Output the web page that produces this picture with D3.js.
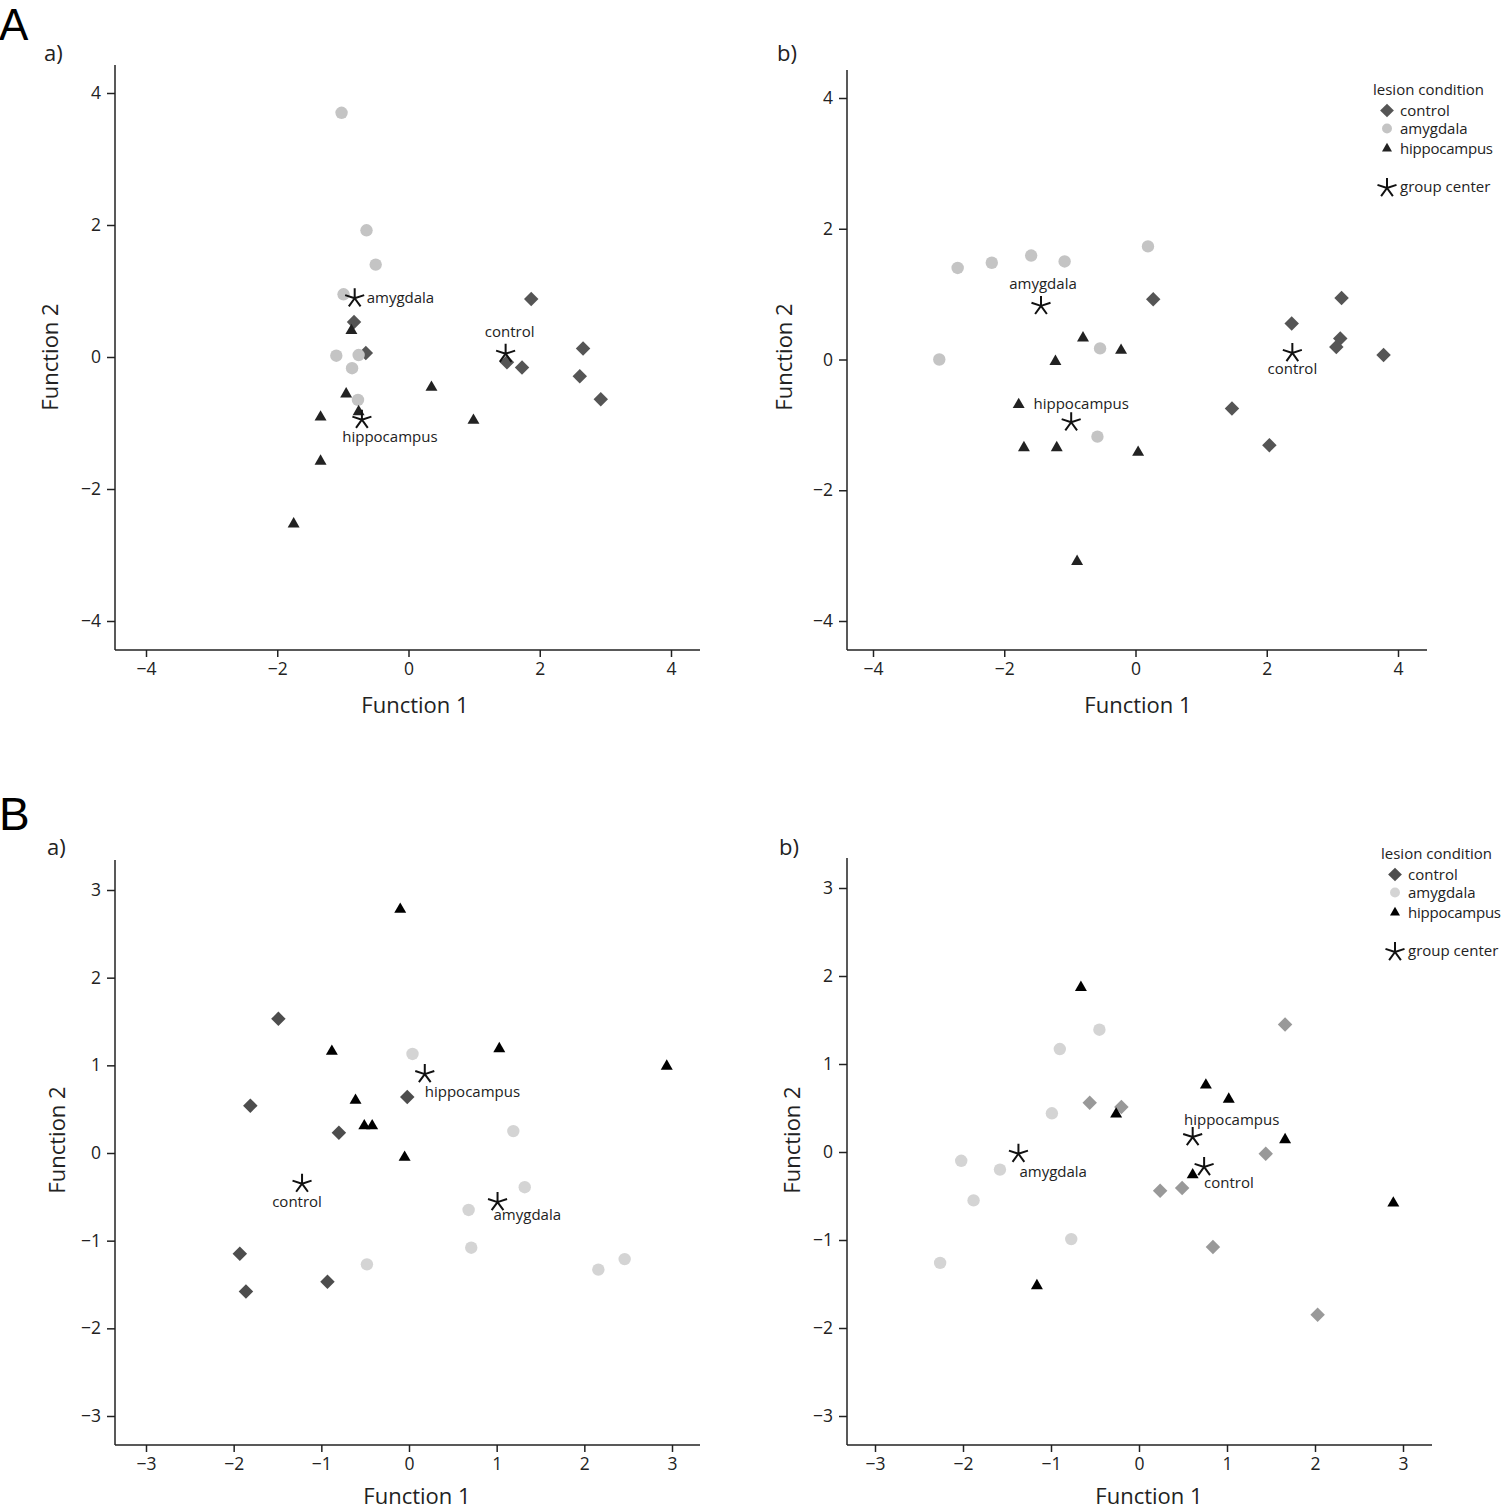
<!DOCTYPE html>
<html><head><meta charset="utf-8">
<script src="https://cdn.jsdelivr.net/npm/d3@7"></script>
<style>body{margin:0;background:#fff}svg{display:block}text{font-family:"Open Sans",sans-serif}</style>
</head><body>
<script>
// ---------- DATA ----------
const groups = ["control", "amygdala", "hippocampus"];
const ticksA = [-4, -2, 0, 2, 4];
const ticksB = [-3, -2, -1, 0, 1, 2, 3];

// Panel A a)
const aaControl = [[1.87,0.88],[-0.83,0.53],[-0.65,0.06],[1.50,-0.08],[1.73,-0.16],[2.66,0.13],[2.61,-0.29],[2.93,-0.64]];
const aaAmygdala = [[-1.02,3.70],[-0.64,1.92],[-0.50,1.40],[-0.99,0.95],[-1.10,0.02],[-0.76,0.03],[-0.86,-0.17],[-0.77,-0.65]];
const aaHippocampus = [[-0.87,0.40],[-0.95,-0.56],[0.35,-0.46],[-1.34,-0.91],[-0.76,-0.83],[0.99,-0.96],[-1.34,-1.58],[-1.75,-2.53]];
const aaCenters = [["amygdala",-0.82,0.89],["control",1.48,0.05],["hippocampus",-0.71,-0.95]];

// Panel A b)
const abControl = [[0.27,0.92],[3.14,0.94],[2.38,0.55],[3.12,0.32],[3.06,0.19],[3.78,0.07],[1.47,-0.75],[2.04,-1.31]];
const abAmygdala = [[-2.71,1.40],[-2.19,1.48],[-1.59,1.59],[-1.08,1.50],[0.19,1.73],[-2.99,0.00],[-0.54,0.17],[-0.58,-1.18]];
const abHippocampus = [[-0.80,0.33],[-0.22,0.14],[-1.22,-0.03],[-1.78,-0.69],[-1.70,-1.35],[-1.20,-1.35],[0.04,-1.42],[-0.89,-3.09]];
const abCenters = [["amygdala",-1.44,0.82],["hippocampus",-0.98,-0.96],["control",2.39,0.10]];

// Panel B a)
const baControl = [[-1.49,1.53],[-1.81,0.54],[-0.80,0.23],[-0.02,0.64],[-1.93,-1.15],[-1.86,-1.58],[-0.93,-1.47]];
const baAmygdala = [[0.04,1.13],[-0.48,-1.27],[1.19,0.25],[1.32,-0.39],[0.68,-0.65],[0.71,-1.08],[2.16,-1.33],[2.46,-1.21]];
const baHippocampus = [[-0.10,2.78],[-0.88,1.16],[-0.61,0.60],[-0.51,0.31],[-0.42,0.31],[-0.05,-0.05],[1.03,1.19],[2.94,0.99]];
const baCenters = [["hippocampus",0.18,0.90],["control",-1.22,-0.35],["amygdala",1.01,-0.56]];

// Panel B b)
const bbControl = [[-0.56,0.56],[-0.20,0.51],[1.66,1.45],[1.44,-0.02],[0.24,-0.44],[0.49,-0.41],[0.84,-1.08],[2.03,-1.85]];
const bbAmygdala = [[-0.45,1.39],[-0.90,1.17],[-0.99,0.44],[-2.02,-0.10],[-1.58,-0.20],[-1.88,-0.55],[-0.77,-0.99],[-2.26,-1.26]];
const bbHippocampus = [[-0.66,1.87],[-0.26,0.43],[-1.16,-1.52],[0.76,0.76],[1.02,0.60],[1.66,0.14],[0.61,-0.26],[2.89,-0.58]];
const bbCenters = [["amygdala",-1.37,-0.02],["hippocampus",0.61,0.17],["control",0.74,-0.17]];

const legendTitle = "lesion condition";
const legendItems = ["control", "amygdala", "hippocampus"];
const legendCenter = "group center";

// ---------- LAYOUT ----------
const svg = d3.select("body").append("svg").attr("width", 1502).attr("height", 1509);

const panels = [
  {tag:"a)", tagXY:[44,61], ticks:ticksA, xr:[146,671], yr:[93,621], ax:{left:115,right:700,top:65,bottom:650},
   xt:[415,713], yt:[58,357], data:[aaControl,aaAmygdala,aaHippocampus], centers:aaCenters,
   colors:["#555","#c4c4c4","#222"],
   lab:{amygdala:[12,5,"start"],control:[4,-17,"middle"],hippocampus:[28,22,"middle"]}},
  {tag:"b)", tagXY:[777,61], ticks:ticksA, xr:[873,1398], yr:[98,621], ax:{left:847,right:1427,top:70,bottom:650},
   xt:[1138,713], yt:[792,357], data:[abControl,abAmygdala,abHippocampus], centers:abCenters,
   colors:["#555","#c4c4c4","#222"], legend:[1373,95,"#555","#c4c4c4","#222"],
   lab:{amygdala:[2,-17,"middle"],hippocampus:[10,-13,"middle"],control:[0,21,"middle"]}},
  {tag:"a)", tagXY:[47,855], ticks:ticksB, xr:[146,672], yr:[890,1416], ax:{left:115,right:700,top:860,bottom:1445},
   xt:[417,1504], yt:[65,1140], data:[baControl,baAmygdala,baHippocampus], centers:baCenters,
   colors:["#4d4d4d","#d4d4d4","#000"],
   lab:{hippocampus:[0,23,"start"],control:[-5,23,"middle"],amygdala:[-4,18,"start"]}},
  {tag:"b)", tagXY:[779,855], ticks:ticksB, xr:[875,1403], yr:[888,1416], ax:{left:847,right:1432,top:858,bottom:1445},
   xt:[1149,1504], yt:[800,1140], data:[bbControl,bbAmygdala,bbHippocampus], centers:bbCenters,
   colors:["#999","#d4d4d4","#000"], legend:[1381,859,"#4d4d4d","#d4d4d4","#000"],
   lab:{amygdala:[1,23,"start"],hippocampus:[39,-12,"middle"],control:[0,21,"start"]}}
];

// big letters
svg.append("text").attr("x",-1).attr("y",40).style("font-family","Liberation Sans, Arial, sans-serif")
  .attr("font-size",44).text("A");
svg.append("text").attr("x",-1).attr("y",830).style("font-family","Liberation Sans, Arial, sans-serif")
  .attr("font-size",46).text("B");

const starPath = (r) => {
  let p = "";
  for (let i = 0; i < 5; i++) {
    const a = -Math.PI/2 + i*2*Math.PI/5;
    p += `M0,0L${(r*Math.cos(a)).toFixed(2)},${(r*Math.sin(a)).toFixed(2)}`;
  }
  return p;
};

function drawMark(g, type, x, y, color, scale=1) {
  if (type === 0) {
    g.append("path")
      .attr("d", d3.symbol(d3.symbolSquare, 105*scale)()).attr("transform",`translate(${x},${y}) rotate(45)`)
      .attr("fill", color);
  } else if (type === 1) {
    g.append("circle").attr("cx",x).attr("cy",y).attr("r",6.2*scale).attr("fill",color);
  } else {
    g.append("path").attr("transform",`translate(${x},${y})`)
      .attr("d", d3.symbol(d3.symbolTriangle, 62*scale)()).attr("fill", color);
  }
}

panels.forEach(p => {
  const x = d3.scaleLinear().domain([p.ticks[0], p.ticks[p.ticks.length-1]]).range(p.xr);
  const y = d3.scaleLinear().domain([p.ticks[p.ticks.length-1], p.ticks[0]]).range(p.yr);
  const g = svg.append("g");
  const fmt = d => d < 0 ? "\u2212" + Math.abs(d) : String(d);

  // axes
  const xa = g.append("g").attr("transform",`translate(0,${p.ax.bottom})`)
    .call(d3.axisBottom(x).tickValues(p.ticks).tickSize(7).tickSizeOuter(0).tickFormat(fmt).tickPadding(6));
  const ya = g.append("g").attr("transform",`translate(${p.ax.left},0)`)
    .call(d3.axisLeft(y).tickValues(p.ticks).tickSize(8).tickSizeOuter(0).tickFormat(fmt).tickPadding(6));
  [xa, ya].forEach(a => {
    a.select(".domain").remove();
    a.selectAll("line").attr("stroke","#222").attr("stroke-width",1.5);
    a.selectAll("text").attr("font-size",17.5).attr("fill","#222").style("font-family","Open Sans, sans-serif");
  });
  g.append("line").attr("x1",p.ax.left).attr("x2",p.ax.right).attr("y1",p.ax.bottom).attr("y2",p.ax.bottom)
    .attr("stroke","#222").attr("stroke-width",1.5);
  g.append("line").attr("x1",p.ax.left).attr("x2",p.ax.left).attr("y1",p.ax.top).attr("y2",p.ax.bottom)
    .attr("stroke","#222").attr("stroke-width",1.5);

  // titles
  g.append("text").attr("x",p.xt[0]).attr("y",p.xt[1]).attr("text-anchor","middle").attr("font-size",22)
    .attr("fill","#222").text("Function 1");
  g.append("text").attr("transform",`translate(${p.yt[0]},${p.yt[1]}) rotate(-90)`).attr("text-anchor","middle")
    .attr("font-size",22).attr("fill","#222").text("Function 2");
  g.append("text").attr("x",p.tagXY[0]).attr("y",p.tagXY[1]).attr("font-size",22).attr("fill","#222").text(p.tag);

  // points
  p.data.forEach((arr, gi) => {
    arr.forEach(d => drawMark(g, gi, x(d[0]), y(d[1]), p.colors[gi]));
  });

  // centers
  p.centers.forEach(c => {
    const cx = x(c[1]), cy = y(c[2]);
    g.append("path").attr("transform",`translate(${cx},${cy})`).attr("d", starPath(10))
      .attr("stroke","#111").attr("stroke-width",2).attr("fill","none");
    const l = p.lab[c[0]];
    g.append("text").attr("x",cx+l[0]).attr("y",cy+l[1]).attr("text-anchor",l[2]).attr("font-size",15)
      .attr("fill","#222").text(c[0]);
  });

  // legend
  if (p.legend) {
    const [lx, ly, c0, c1, c2] = p.legend;
    const lg = g.append("g");
    lg.append("text").attr("x",lx).attr("y",ly).attr("font-size",15).attr("fill","#222").text(legendTitle);
    const cols = [c0, c1, c2];
    const dy = [16, 34, 54];
    legendItems.forEach((t, i) => {
      drawMark(lg, i, lx+14, ly+dy[i]-0.5, cols[i], i===0?0.9:(i===1?0.8:0.7));
      lg.append("text").attr("x",lx+27).attr("y",ly+dy[i]+5).attr("font-size",15).attr("fill","#222")
        .attr("textLength", t === "hippocampus" ? 93 : null).text(t);
    });
    lg.append("path").attr("transform",`translate(${lx+14},${ly+93})`).attr("d", starPath(10))
      .attr("stroke","#111").attr("stroke-width",2).attr("fill","none");
    lg.append("text").attr("x",lx+27).attr("y",ly+97).attr("font-size",15).attr("fill","#222").text(legendCenter);
  }
});
</script>
</body></html>
